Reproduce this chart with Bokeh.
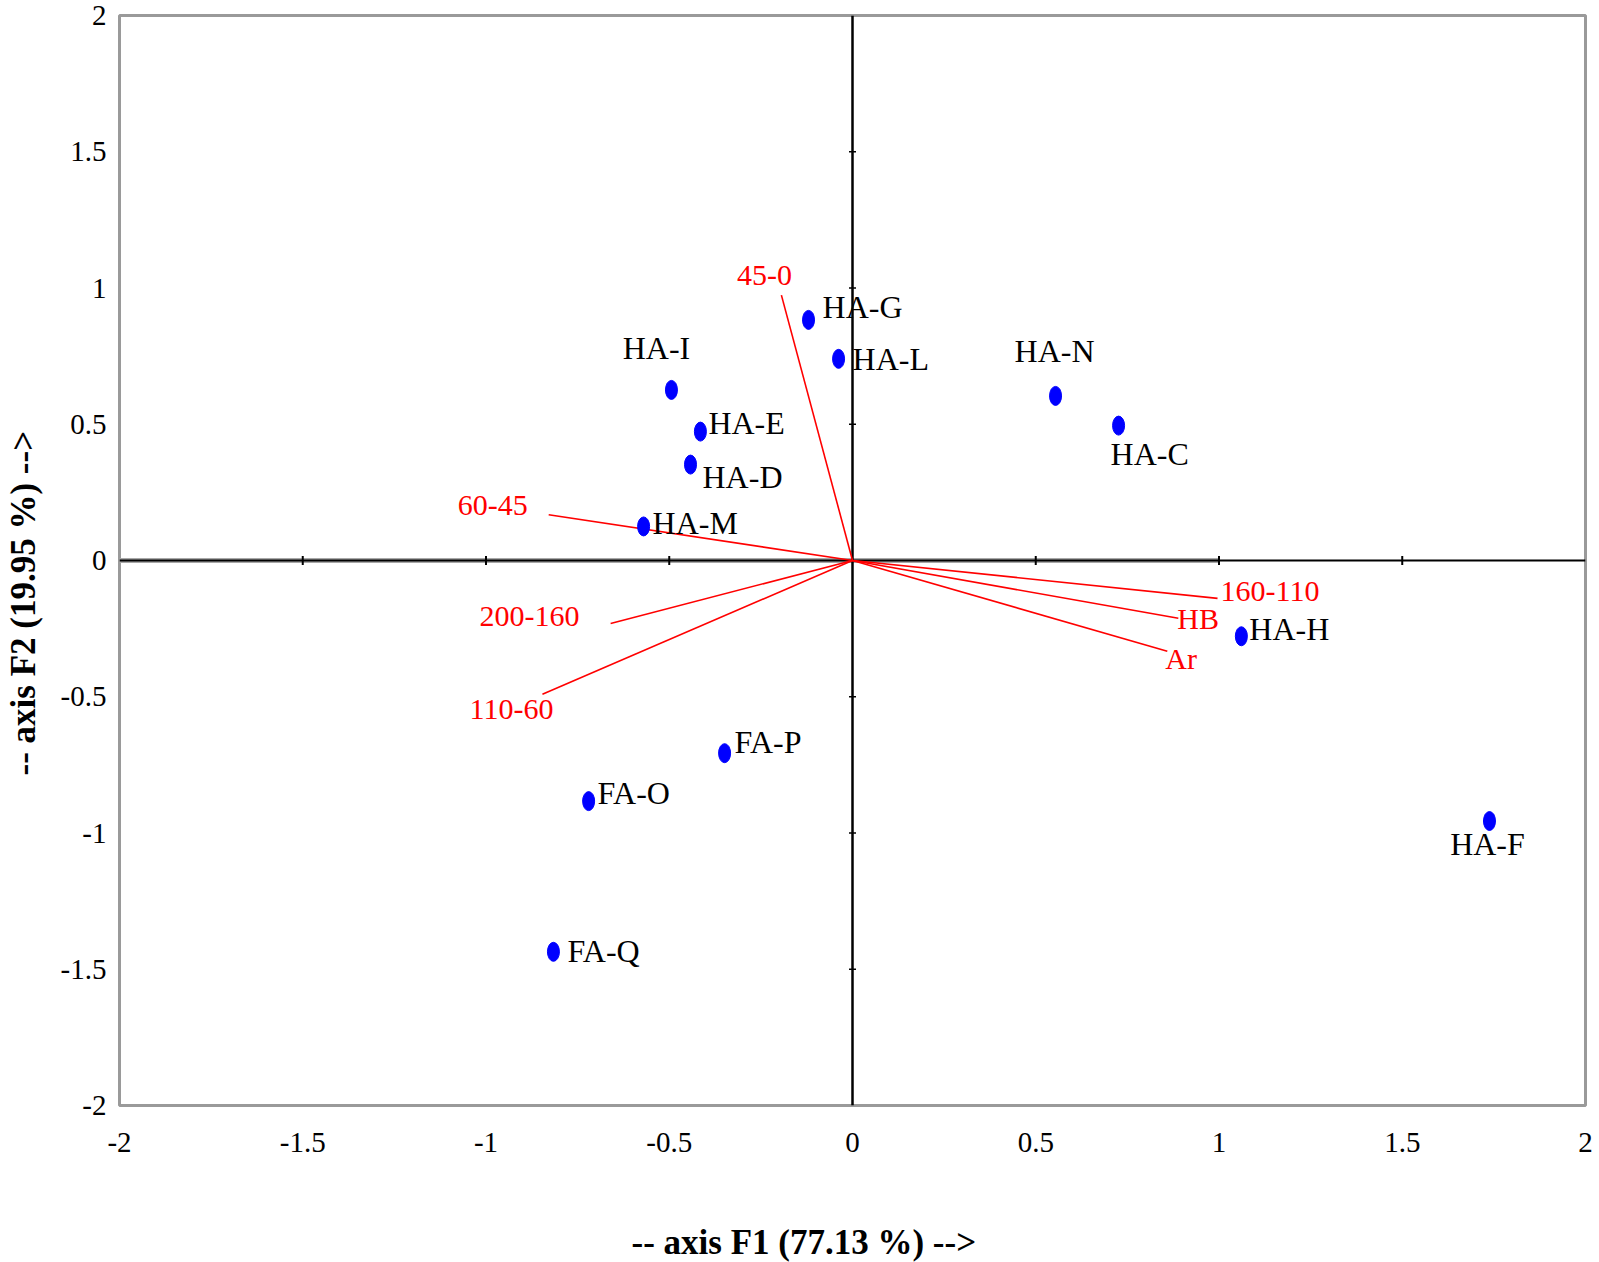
from bokeh.plotting import figure
from bokeh.models import Range1d, FixedTicker, Title, ColumnDataSource
from bokeh.core.properties import value
from bokeh.embed import file_html
from bokeh.resources import INLINE

# ---------------- data ----------------
obs_names = ["HA-G", "HA-L", "HA-I", "HA-E", "HA-D", "HA-M", "HA-N", "HA-C",
             "HA-H", "HA-F", "FA-P", "FA-O", "FA-Q"]
obs_f1 = [-0.120, -0.038, -0.494, -0.415, -0.442, -0.570, 0.554, 0.726,
          1.061, 1.738, -0.349, -0.720, -0.816]
obs_f2 = [0.883, 0.740, 0.626, 0.473, 0.352, 0.125, 0.604, 0.495,
          -0.278, -0.956, -0.707, -0.883, -1.436]

var_names = ["45-0", "60-45", "200-160", "110-60", "160-110", "HB", "Ar"]
var_f1 = [-0.194, -0.829, -0.660, -0.846, 0.996, 0.889, 0.859]
var_f2 = [0.974, 0.168, -0.231, -0.491, -0.139, -0.212, -0.333]

tick_values = [-2, -1.5, -1, -0.5, 0, 0.5, 1, 1.5, 2]
tick_labels = ["-2", "-1.5", "-1", "-0.5", "0", "0.5", "1", "1.5", "2"]

x_title = "-- axis F1 (77.13 %) -->"
y_title = "-- axis F2 (19.95 %) -->"

# label placement (screen px offsets / alignment)
obs_dx = [14, 14, -15, 8, 12, 9, -1, -8, 8, -2, 10, 9, 14]
obs_dy = [-13, 0, -42, -9, 12, -3, -45, 28, -7, 23, -11, -8, -1]
obs_al = ["left", "left", "center", "left", "left", "left", "center", "left",
          "left", "center", "left", "left", "left"]

var_dx = [-17, -21, -31, -31, 3, -1, -2]
var_dy = [-20, -9, -7, 15, -7, 0, 7]
var_al = ["center", "right", "right", "center", "left", "left", "left"]

SERIF = "Liberation Serif"

p = figure(width=1599, height=1262, output_backend="svg", toolbar_location=None,
           x_range=Range1d(-2, 2), y_range=Range1d(-2, 2),
           min_border_left=119, min_border_right=14, min_border_top=15,
           min_border_bottom=157)
p.background_fill_color = "white"
p.border_fill_color = "white"
p.outline_line_color = "#9a9a9a"
p.outline_line_width = 3
p.grid.visible = False

overrides = {v: l for v, l in zip(tick_values, tick_labels)}
for ax in (p.xaxis[0], p.yaxis[0]):
    ax.ticker = FixedTicker(ticks=tick_values)
    ax.major_label_overrides = overrides
    ax.axis_line_color = None
    ax.major_tick_line_color = None
    ax.minor_tick_line_color = None
    ax.major_tick_in = 0
    ax.major_tick_out = 0
    ax.major_label_text_font = SERIF
    ax.major_label_text_font_size = "29px"
    ax.major_label_text_color = "black"
    # spacer so that the title sits at the reference distance from the frame
    ax.axis_label = "\u00a0"
    ax.axis_label_text_font_size = "1px"
p.xaxis[0].major_label_standoff = 27
p.yaxis[0].major_label_standoff = 13
p.xaxis[0].axis_label_standoff = 61
p.yaxis[0].axis_label_standoff = 10

# axis titles
tx = Title(text=x_title, align="left", offset=512, text_font=SERIF,
           text_font_size="35px", text_font_style="bold", text_color="black",
           standoff=2)
p.add_layout(tx, "below")
ty = Title(text=y_title, align="left", offset=330, text_font=SERIF,
           text_font_size="35px", text_font_style="bold", text_color="black",
           standoff=2)
p.add_layout(ty, "left")

# zero axes
p.line(x=[tick_values[0], 1], y=[0, 0], line_color="#a8a8a8", line_width=5)
p.line(x=[tick_values[0], tick_values[-1]], y=[0, 0], line_color="black", line_width=2)
p.line(x=[0, 0], y=[tick_values[0], tick_values[-1]], line_color="black", line_width=2.5)

inner = [t for t in tick_values if t not in (tick_values[0], tick_values[-1], 0)]
p.scatter(x=inner, y=[0] * len(inner), marker="dash", size=9, angle=1.5708,
          line_color="black", line_width=2)
p.scatter(x=[0] * len(inner), y=inner, marker="dash", size=7,
          line_color="black", line_width=1.5)

# variable vectors
vsrc = ColumnDataSource(dict(x0=[0] * len(var_f1), y0=[0] * len(var_f2),
                             x=var_f1, y=var_f2, name=var_names,
                             dx=var_dx, dy=var_dy, al=var_al))
p.segment(x0="x0", y0="y0", x1="x", y1="y", source=vsrc,
          line_color="#ff0000", line_width=1.6)
p.text(x="x", y="y", text="name", source=vsrc, x_offset="dx", y_offset="dy",
       text_align="al", text_baseline="middle", text_color="#ff0000",
       text_font=value(SERIF), text_font_size="30px")

# observations
osrc = ColumnDataSource(dict(x=obs_f1, y=obs_f2, name=obs_names,
                             dx=obs_dx, dy=obs_dy, al=obs_al))
p.ellipse(x="x", y="y", width=12, height=19, width_units="screen",
          height_units="screen", source=osrc, fill_color="#0000ff",
          line_color="#0000ff")
p.text(x="x", y="y", text="name", source=osrc, x_offset="dx", y_offset="dy",
       text_align="al", text_baseline="middle", text_color="black",
       text_font=value(SERIF), text_font_size="32px")

open("out.html", "w").write(file_html(p, INLINE))
